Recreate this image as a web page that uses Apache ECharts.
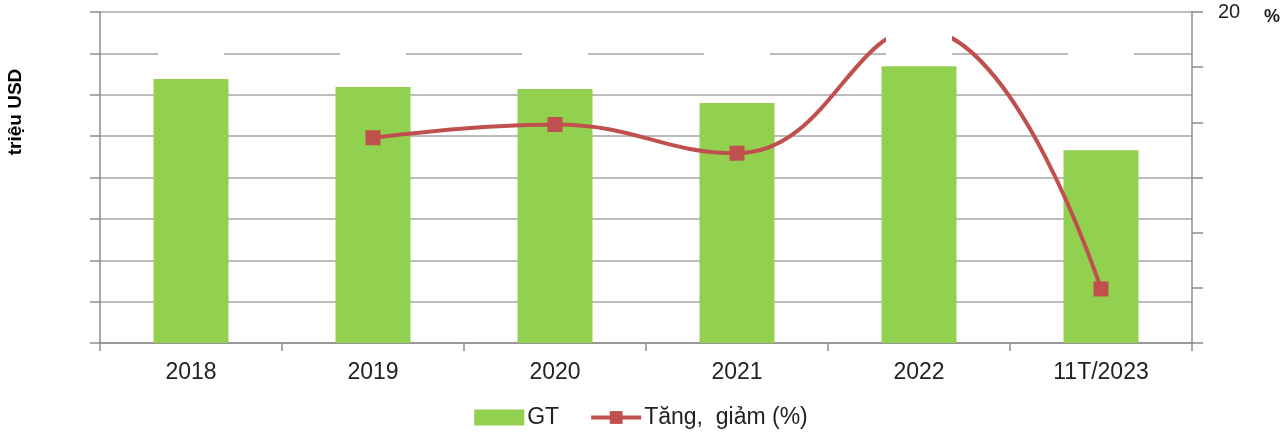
<!DOCTYPE html>
<html>
<head>
<meta charset="utf-8">
<script src="https://cdn.jsdelivr.net/npm/echarts@6/dist/echarts.min.js"></script>
<style>
  html, body { margin: 0; padding: 0; background: #fff; }
  #chart { width: 1282px; height: 433px; }
</style>
</head>
<body>
<div id="chart"></div>
<script>
// Categories and values
const years = ['2018', '2019', '2020', '2021', '2022', '11T/2023'];
const gtValues = [638, 619, 614, 580, 669, 466];          // triệu USD
const growthPct = [null, 8.6, 9.8, 7.2, 18.5, -5.1];      // %
const rightTickLabels = ['20'];

// Blank label plates sit at one level on the value axis
const PLATE_LEVEL = 742;
const plateValues = years.map(() => PLATE_LEVEL);

const FONT = '"Liberation Sans", Arial, sans-serif';
const GRID_GRAY = '#A6A6A6';
const AXIS_GRAY = '#8C8C8C';
const RED = '#C0504D';

const chart = echarts.init(document.getElementById('chart'), null, { renderer: 'canvas' });

chart.setOption({
  animation: false,
  textStyle: { fontFamily: FONT },
  grid: { left: 100, right: 90, top: 12, bottom: 90, containLabel: false },
  legend: {
    top: 401,
    left: 'center',
    itemWidth: 50,
    itemHeight: 16,
    itemGap: 30,
    data: [
      { name: 'GT', icon: 'rect' },
      { name: 'Tăng,  giảm (%)', lineStyle: { width: 4, color: RED } }
    ],
    textStyle: { fontSize: 23, color: '#222', fontFamily: FONT, padding: [0, 0, 0, -2] }
  },
  xAxis: {
    type: 'category',
    data: years,
    boundaryGap: true,
    axisLine: { lineStyle: { color: AXIS_GRAY, width: 1.5 } },
    axisTick: { show: true, length: 8, alignWithLabel: false, lineStyle: { color: AXIS_GRAY, width: 1.5 } },
    axisLabel: { fontSize: 23, color: '#222', margin: 18, fontFamily: FONT }
  },
  yAxis: [
    {
      type: 'value',
      min: 0,
      max: 800,
      interval: 100,
      axisLine: { show: true, lineStyle: { color: AXIS_GRAY, width: 1.5 } },
      axisTick: { show: true, length: 10, lineStyle: { color: AXIS_GRAY, width: 1.5 } },
      axisLabel: { show: false },
      splitLine: { show: true, lineStyle: { color: GRID_GRAY, width: 1.5 } }
    },
    {
      type: 'value',
      position: 'right',
      min: -10,
      max: 20,
      interval: 5,
      axisLine: { show: true, lineStyle: { color: AXIS_GRAY, width: 1.5 } },
      axisTick: { show: true, inside: false, length: 11, lineStyle: { color: AXIS_GRAY, width: 1.5 } },
      axisLabel: {
        show: true,
        margin: 26,
        fontSize: 20,
        color: '#222',
        fontFamily: FONT,
        formatter: v => (rightTickLabels.includes(String(v)) ? String(v) : '')
      },
      splitLine: { show: false }
    }
  ],
  graphic: [
    {
      type: 'text',
      x: 16,
      y: 112,
      rotation: Math.PI / 2,
      style: {
        text: 'triệu USD',
        font: 'bold 19px ' + FONT,
        fill: '#000',
        align: 'center',
        verticalAlign: 'middle'
      }
    },
    {
      type: 'text',
      x: 1264,
      y: 8,
      style: {
        text: '%',
        font: 'bold 18px ' + FONT,
        fill: '#222',
        align: 'left',
        verticalAlign: 'top'
      }
    }
  ],
  series: [
    {
      name: 'GT',
      type: 'bar',
      yAxisIndex: 0,
      data: gtValues,
      barWidth: 75,
      itemStyle: { color: '#92D050' },
      z: 2
    },
    {
      name: 'Tăng,  giảm (%)',
      type: 'line',
      yAxisIndex: 1,
      data: growthPct,
      smooth: 0.45,
      connectNulls: false,
      symbol: 'rect',
      symbolSize: 15,
      showSymbol: true,
      lineStyle: { color: RED, width: 4 },
      itemStyle: { color: RED },
      z: 3
    },
    {
      name: 'plates',
      type: 'scatter',
      yAxisIndex: 0,
      data: plateValues,
      symbol: 'rect',
      symbolSize: [66, 44],
      itemStyle: { color: '#FFFFFF', opacity: 1 },
      emphasis: { disabled: true },
      silent: true,
      z: 4
    }
  ]
});
</script>
</body>
</html>
